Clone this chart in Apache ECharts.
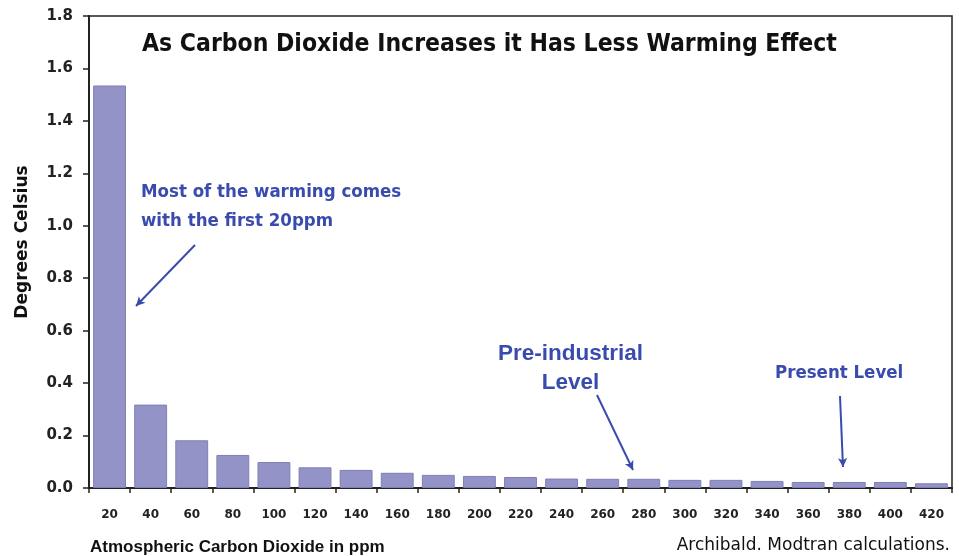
<!DOCTYPE html>
<html><head><meta charset="utf-8">
<script src="https://cdn.jsdelivr.net/npm/echarts@6/dist/echarts.min.js"></script>
<style>html,body{margin:0;padding:0;background:#fff}#c{width:959px;height:556px}</style>
</head><body><div id="c"></div>
<script>
const categories = ['20','40','60','80','100','120','140','160','180','200','220','240','260','280','300','320','340','360','380','400','420'];
const warming = [1.535,0.318,0.182,0.126,0.099,0.079,0.069,0.058,0.050,0.046,0.042,0.036,0.035,0.035,0.031,0.031,0.027,0.023,0.023,0.023,0.018];
const yTicks = [0,0.2,0.4,0.6,0.8,1.0,1.2,1.4,1.6,1.8];

const chart = echarts.init(document.getElementById('c'));
const blue = '#3A4BAE';
chart.setOption({
  animation:false,
  backgroundColor:'#fff',
  grid:{left:89,right:7,top:16,bottom:68,show:true,borderColor:'#222',borderWidth:1.5},
  xAxis:{type:'category',data:categories,
    axisLine:{lineStyle:{color:'#222',width:2}},
    axisTick:{show:true,alignWithLabel:false,length:5,lineStyle:{color:'#222',width:1.5}},
    axisLabel:{color:'#222',fontFamily:'DejaVu Sans',fontWeight:'bold',fontSize:12,margin:21},
    name:'Atmospheric Carbon Dioxide in ppm',nameLocation:'start',nameGap:-1,
    nameTextStyle:{color:'#111',fontFamily:'Liberation Sans, Arial',fontWeight:'bold',fontSize:17,align:'left',verticalAlign:'top',padding:[51,0,0,0]}
  },
  yAxis:{type:'value',min:0,max:1.8,interval:0.2,
    axisLine:{show:true,lineStyle:{color:'#222',width:2}},
    axisTick:{show:true,length:6,lineStyle:{color:'#222',width:1.5}},
    splitLine:{show:false},
    axisLabel:{color:'#222',fontFamily:'DejaVu Sans',fontWeight:'bold',fontSize:15,margin:16,
      formatter:v=>v.toFixed(1)}
  },
  series:[{type:'bar',data:warming,barCategoryGap:'20%',
    itemStyle:{color:'#9393C8',borderColor:'#7F7FB6',borderWidth:1},
    markLine:{silent:true,symbol:['none','arrow'],symbolSize:[7,9],
      lineStyle:{color:blue,width:2,type:'solid'},label:{show:false},
      data:[
        [{x:195,y:245},{x:136,y:306}],
        [{x:597,y:395},{x:633,y:470}],
        [{x:840,y:396},{x:843,y:467}]
      ]}
  }],
  graphic:[
    {type:'text',x:23,y:242,rotation:Math.PI/2,style:{text:'Degrees Celsius',
      font:'bold 17px "DejaVu Sans"',fill:'#111',align:'center',verticalAlign:'middle'}},
    {type:'text',left:142,top:32,style:{text:'As Carbon Dioxide Increases it Has Less Warming Effect',
      font:'bold 24.5px "DejaVu Sans Condensed", "Liberation Sans", Arial',fill:'#111'}},
    {type:'text',left:141,top:178,style:{text:'Most of the warming comes\nwith the first 20ppm',
      font:'bold 18.5px "DejaVu Sans Condensed", "Liberation Sans", Arial',fill:blue,lineHeight:29}},
    {type:'text',left:498,top:339,style:{text:'Pre-industrial\nLevel',align:'center',
      font:'bold 22.5px "Liberation Sans", Arial',fill:blue,lineHeight:29,textAlign:'center'}},
    {type:'text',left:775,top:364,style:{text:'Present Level',
      font:'bold 18.5px "DejaVu Sans Condensed", "Liberation Sans", Arial',fill:blue}},
    {type:'text',right:9,top:537,style:{text:'Archibald. Modtran calculations.',
      font:'17px "DejaVu Sans", Verdana',fill:'#111'}}
  ]
});
</script></body></html>
